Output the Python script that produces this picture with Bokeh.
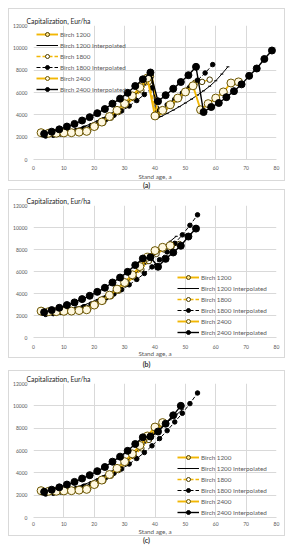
from bokeh.plotting import figure
from bokeh.models import Range1d, FixedTicker, Legend, LegendItem, Div
from bokeh.layouts import column
from bokeh.embed import file_html
from bokeh.resources import INLINE

# ---------------- data ----------------
SERIES = ["Birch 1200", "Birch 1200 Interpolated", "Birch 1800",
          "Birch 1800 Interpolated", "Birch 2400", "Birch 2400 Interpolated"]
X_TICKS = [0, 10, 20, 30, 40, 50, 60, 70, 80]
Y_TICKS = [0, 2000, 4000, 6000, 8000, 10000, 12000]
PANEL_LABELS = ["(a)", "(b)", "(c)"]

# first rotation (common to all panels)
age_b1200 = [3, 5, 7, 9, 11, 13, 15, 17, 19, 21, 23, 25, 27, 29, 31, 33, 35, 37]
cap_b1200 = [2300, 2330, 2360, 2390, 2420, 2450, 2480, 2560, 2900, 3150, 3450, 3800, 4200, 4650, 5150, 5700, 6300, 6900]
age_b1200i = [3, 5, 7, 9, 11, 13, 15, 17, 19, 21, 23, 25, 27, 29, 31, 33, 35, 37]
cap_b1200i = [2150, 2200, 2280, 2380, 2500, 2640, 2800, 2990, 3210, 3460, 3740, 4050, 4390, 4770, 5190, 5650, 6150, 6700]
age_b1800 = [3, 5.5, 8, 10.5, 13, 15.5, 18, 20.5, 23, 25.5, 28, 30.5, 33, 35.5, 38]
cap_b1800 = [2250, 2300, 2330, 2370, 2410, 2460, 2550, 2950, 3300, 3750, 4250, 4850, 5500, 6200, 6950]
age_b1800i = [4, 6.5, 9, 11.5, 14, 16.5, 19, 21.5, 24, 26.5, 29, 31.5, 34, 36.5, 39]
cap_b1800i = [2100, 2170, 2280, 2420, 2590, 2790, 3030, 3300, 3610, 3960, 4350, 4790, 5280, 5820, 6420]
age_b2400 = [2.5, 5, 7.5, 10, 12.5, 15, 17.5, 20, 22.5, 25, 27.5, 30, 32.5, 35, 37.5]
cap_b2400 = [2400, 2350, 2350, 2380, 2400, 2450, 2520, 2950, 3350, 3850, 4400, 5000, 5700, 6450, 7300]
age_b2400i = [3.5, 6, 8.5, 11, 13.5, 16, 18.5, 21, 23.5, 26, 28.5, 31, 33.5, 36]
cap_b2400i = [2300, 2490, 2700, 2950, 3190, 3490, 3790, 4150, 4520, 5000, 5450, 5970, 6580, 7180]

# panel (a) continuation (thinnings / new rotations)
a_age_b1200 = [39, 41, 43, 45, 47, 49, 51, 53]
a_cap_b1200 = [7450, 3900, 4300, 4800, 5300, 5850, 6400, 6950]
a_age_b1200i = [39, 40.5, 42, 44, 46, 48, 50, 52, 54, 56, 58, 60, 62, 64]
a_cap_b1200i = [7300, 3650, 3850, 4130, 4420, 4730, 5060, 5400, 5770, 6150, 6560, 7050, 7650, 8300]
a_age_b1800 = [40.5, 43, 45.5, 48, 50.5, 53, 55.5, 58]
a_cap_b1800 = [4000, 4450, 5000, 5550, 6150, 6700, 6950, 7150]
a_age_b1800i = [41.5, 44, 46.5, 49, 51.5, 54, 56.5, 59]
a_cap_b1800i = [4400, 4900, 5400, 5950, 6500, 7100, 7750, 8500]
a_age_b2400 = [40, 42.5, 45, 47.5, 50, 52.5, 55, 57.5, 60, 62.5, 65, 67.5]
a_cap_b2400 = [3900, 4400, 4900, 5500, 6050, 6600, 4450, 5000, 5500, 6050, 6850, 6950]
a_age_b2400i = [38.5, 41, 43.5, 46, 48.5, 51, 53.5, 56, 58.5, 61, 63.5, 66, 68.5, 71, 73.5, 76, 78.5]
a_cap_b2400i = [7790, 5210, 5760, 6340, 6940, 7550, 8300, 4250, 4700, 5060, 5580, 6120, 6730, 7490, 8150, 9000, 9760]

# panel (b) continuation
b_age_b1200 = [39, 41, 43, 45, 47]
b_cap_b1200 = [7400, 7850, 8150, 8350, 8500]
b_age_b1200i = [39, 41, 43, 45, 47]
b_cap_b1200i = [7250, 7800, 8300, 8750, 9200]
b_age_b1800 = [40.5, 43, 45.5, 48]
b_cap_b1800 = [7600, 8000, 8300, 8500]
b_age_b1800i = [41.5, 44, 46.5, 49, 51.5, 54]
b_cap_b1800i = [7070, 7780, 8560, 9330, 10200, 11150]
b_age_b2400 = [40, 42.5, 45]
b_cap_b2400 = [7900, 8200, 8350]
b_age_b2400i = [38.5, 41, 43.5, 46, 48.5, 51, 53.5]
b_cap_b2400i = [7300, 6430, 7150, 7730, 8340, 9180, 9900]

# panel (c) continuation
c_age_b1200 = [39, 41, 43]
c_cap_b1200 = [7500, 8000, 8450]
c_age_b1200i = [39, 41, 43, 45, 47, 49]
c_cap_b1200i = [7250, 7800, 8300, 8750, 9200, 9650]
c_age_b1800 = [40.5, 43]
c_cap_b1800 = [7900, 8400]
c_age_b1800i = [41.5, 44, 46.5, 49, 51.5, 54]
c_cap_b1800i = [7070, 7780, 8560, 9330, 10200, 11150]
c_age_b2400 = [40, 42.5]
c_cap_b2400 = [8100, 8500]
c_age_b2400i = [38.5, 41, 43.5, 46, 48.5]
c_cap_b2400i = [7250, 7700, 8400, 9150, 10000]

BASE = [(age_b1200, cap_b1200), (age_b1200i, cap_b1200i), (age_b1800, cap_b1800),
        (age_b1800i, cap_b1800i), (age_b2400, cap_b2400), (age_b2400i, cap_b2400i)]
CONT = {
    "a": [(a_age_b1200, a_cap_b1200), (a_age_b1200i, a_cap_b1200i), (a_age_b1800, a_cap_b1800),
          (a_age_b1800i, a_cap_b1800i), (a_age_b2400, a_cap_b2400), (a_age_b2400i, a_cap_b2400i)],
    "b": [(b_age_b1200, b_cap_b1200), (b_age_b1200i, b_cap_b1200i), (b_age_b1800, b_cap_b1800),
          (b_age_b1800i, b_cap_b1800i), (b_age_b2400, b_cap_b2400), (b_age_b2400i, b_cap_b2400i)],
    "c": [(c_age_b1200, c_cap_b1200), (c_age_b1200i, c_cap_b1200i), (c_age_b1800, c_cap_b1800),
          (c_age_b1800i, c_cap_b1800i), (c_age_b2400, c_cap_b2400), (c_age_b2400i, c_cap_b2400i)],
}

# ---------------- style ----------------
FONT = "Lato"
GOLD = "#F2B705"
GRID = "#d9d9d9"
TXT = "#595959"
STY = [
    dict(color=GOLD, width=1.9, dash="solid", marker="circle", size=3.5, fill="#FFE38A", mline="#4a3b00"),
    dict(color="black", width=1.0, dash="solid", marker="dash", size=3, fill="black", mline="black"),
    dict(color=GOLD, width=1.3, dash="4 2", marker="circle", size=5.5, fill="#FFFFFF", mline="#4a3b00"),
    dict(color="black", width=1.0, dash="4 2", marker="circle", size=4.5, fill="black", mline="black"),
    dict(color=GOLD, width=1.9, dash="solid", marker="circle", size=8, fill="#FFF8E0", mline="#6b5500"),
    dict(color="black", width=1.4, dash="solid", marker="circle", size=7, fill="black", mline="black"),
]


def make_panel(key, frame_h, top, bottom, legend_loc, lab_standoff, axlab_standoff):
    p = figure(frame_width=241, frame_height=frame_h, x_range=Range1d(0, 80), y_range=Range1d(0, 12000),
               output_backend="svg", toolbar_location=None,
               min_border_left=24, min_border_right=10, min_border_top=top, min_border_bottom=bottom,
               styles={"border": "1px solid " + GRID})
    p.outline_line_color = None
    p.xaxis.ticker = FixedTicker(ticks=X_TICKS)
    p.yaxis.ticker = FixedTicker(ticks=Y_TICKS)
    for ax in (p.xaxis[0], p.yaxis[0]):
        ax.major_tick_line_color = None
        ax.minor_tick_line_color = None
        ax.major_tick_out = 0
        ax.major_tick_in = 0
        ax.minor_tick_out = 0
        ax.minor_tick_in = 0
        ax.major_label_text_font = FONT
        ax.major_label_text_font_size = "5px"
        ax.major_label_text_color = TXT
    p.yaxis.axis_line_color = None
    p.yaxis.major_label_standoff = 6
    p.xaxis.axis_line_color = GRID
    p.xaxis.major_label_standoff = lab_standoff
    p.xaxis.axis_label = "Stand age, a"
    p.xaxis.axis_label_text_font = FONT
    p.xaxis.axis_label_text_font_size = "6.3px"
    p.xaxis.axis_label_text_font_style = "normal"
    p.xaxis.axis_label_text_color = TXT
    p.xaxis.axis_label_standoff = axlab_standoff
    p.xgrid.grid_line_color = GRID
    p.ygrid.grid_line_color = GRID

    p.title.text = "Capitalization,  Eur/ha"
    p.title.align = "left"
    p.title.offset = -7
    p.title.standoff = 2
    p.title.text_font = FONT
    p.title.text_font_size = "6.8px"
    p.title.text_font_style = "normal"
    p.title.text_color = "#262626"

    items = []
    for i, name in enumerate(SERIES):
        xs = list(BASE[i][0]) + list(CONT[key][i][0])
        ys = list(BASE[i][1]) + list(CONT[key][i][1])
        s = STY[i]
        lr = p.line(xs, ys, line_color=s["color"], line_width=s["width"], line_dash=s["dash"])
        sr = p.scatter(xs, ys, marker=s["marker"], size=s["size"], fill_color=s["fill"],
                       line_color=s["mline"], line_width=1)
        items.append(LegendItem(label=name, renderers=[lr, sr]))

    leg = Legend(items=items, location=legend_loc, padding=0, margin=0, spacing=1,
                 glyph_width=22, glyph_height=10, label_height=10, label_standoff=2,
                 label_text_font=FONT, label_text_font_size="6.3px", label_text_color=TXT,
                 border_line_color=None, background_fill_alpha=0)
    p.add_layout(leg)
    return p


def caption(txt, h):
    return Div(text=txt, width=277, height=h, margin=0,
               styles={"text-align": "center", "font-family": FONT, "font-size": "7px",
                       "line-height": f"{h}px", "font-weight": "bold", "color": "#333333"})


pa = make_panel("a", 132, 16, 20, (3, 65), 6, 0)
pb = make_panel("b", 130, 15, 21, (144, 0), 7, -2)
pc = make_panel("c", 132, 11, 18, (144, 0), 4, -1)

layout = column(pa, caption(PANEL_LABELS[0], 8), pb, caption(PANEL_LABELS[1], 12), pc,
                caption(PANEL_LABELS[2], 9), spacing=0, margin=(8, 0, 0, 8))

open("out.html", "w").write(file_html(layout, INLINE))
